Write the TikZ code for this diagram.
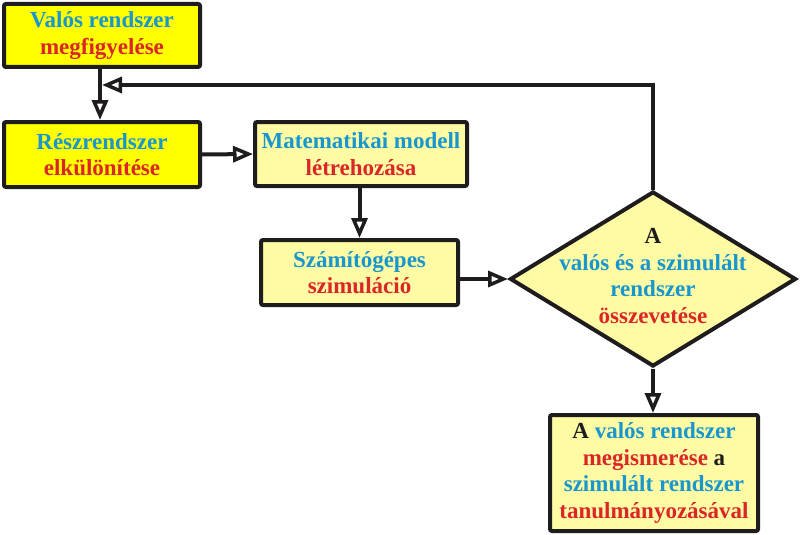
\documentclass[tikz,border=0pt]{standalone}
\usepackage{fontspec}
\setmainfont{Liberation Serif}
\usetikzlibrary{arrows.meta,shapes.geometric,calc}
\definecolor{tblue}{RGB}{25,150,205}
\definecolor{tred}{RGB}{218,38,38}
\definecolor{bright}{RGB}{255,255,0}
\definecolor{pale}{RGB}{255,251,165}
\definecolor{ink}{RGB}{30,28,28}
\begin{document}
\begin{tikzpicture}[x=1pt,y=-1pt,
  txt/.style={align=center,font=\fontsize{23}{26.5}\selectfont\bfseries},
  box/.style={txt,draw=ink,line width=4pt,rounded corners=2pt,inner sep=0pt},
  strong/.style={box,fill=bright},
  soft/.style={box,fill=pale},
  conn/.style={draw=ink,line width=4pt},
  arr/.style={conn,-{Triangle[open,length=20pt,width=16pt,line width=3.5pt]}},
]
\useasboundingbox (0,0) rectangle (800,535);

\node[strong,minimum width=196pt,minimum height=63pt] (obs) at (102,35.5)
  {\textcolor{tblue}{Valós rendszer}\\\textcolor{tred}{megfigyelése}};
\node[strong,minimum width=196pt,minimum height=65pt] (sub) at (102,154.5)
  {\textcolor{tblue}{Részrendszer}\\\textcolor{tred}{elkülönítése}};
\node[soft,minimum width=212pt,minimum height=64pt] (mat) at (361,154)
  {\textcolor{tblue}{Matematikai modell}\\\textcolor{tred}{létrehozása}};
\node[soft,minimum width=197pt,minimum height=65pt] (sim) at (359.5,272.5)
  {\textcolor{tblue}{Számítógépes}\\\textcolor{tred}{szimuláció}};
\node[draw=ink,line width=4pt,fill=pale,diamond,inner sep=0pt,
  minimum width=286pt,minimum height=175pt] (cmp) at (653,279) {};
\node[txt,inner sep=0pt] (cmptext) at (653,276)
  {\textcolor{ink}{A}\\\textcolor{tblue}{valós és a szimulált}\\\textcolor{tblue}{rendszer}\\\textcolor{tred}{összevetése}};
\node[soft,minimum width=208pt,minimum height=116pt] (res) at (654,473)
  {\textcolor{ink}{A} \textcolor{tblue}{valós rendszer}\\\textcolor{tred}{megismerése} \textcolor{ink}{a}\\\textcolor{tblue}{szimulált rendszer}\\\textcolor{tred}{tanulmányozásával}};

\coordinate (join) at (100,85);
\coordinate (corner) at (cmp.north |- join);
\coordinate (obsout) at ($(obs.south)+(-2,0)$);
\coordinate (subin) at ($(sub.north)+(-2,0)$);
\coordinate (joinend) at ($(join)+(2,0)$);
\coordinate (matout) at ($(mat.south)+(-1.5,0)$);
\coordinate (simin) at (matout |- sim.north);

\draw[arr] (obsout) -- (subin);
\draw[arr] (sub.east) -- (mat.west);
\draw[arr] (matout) -- (simin);
\draw[arr] (sim.east |- cmp.west) -- (cmp.west);
\draw[arr] (cmp.south) -- (cmp.south |- res.north);
\draw[arr] (cmp.north) -- (corner) -- (joinend);
\end{tikzpicture}
\end{document}
